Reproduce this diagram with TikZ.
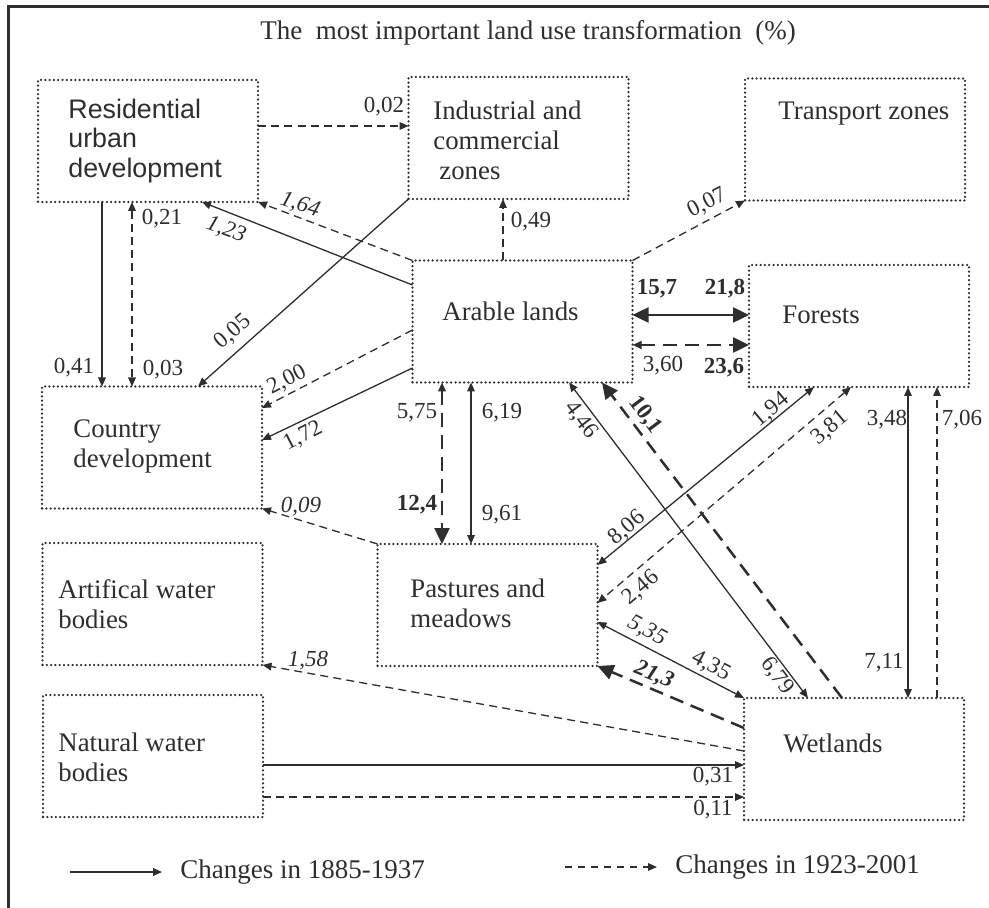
\documentclass[tikz,border=0pt]{standalone}
\usepackage{fontspec}
\setmainfont{Liberation Serif}
\newfontfamily\residfont{Liberation Sans}
\usetikzlibrary{arrows.meta}
\definecolor{ink}{HTML}{2E2E2E}

\begin{document}
\begin{tikzpicture}[x=0.5pt,y=-0.5pt,
  landbox/.style={draw=ink,line width=1.25pt,line cap=round,dash pattern=on 0pt off 2.15pt,
    minimum width=110pt,minimum height=61pt,inner sep=0pt,outer sep=0pt},
  boxtext/.style={anchor=west,align=left,text=ink,inner sep=0pt,font=\fontsize{13.4}{15}\selectfont},
  lbl/.style={text=ink,inner sep=0pt,font=\fontsize{11.5}{13}\selectfont},
  lbli/.style={lbl,font=\fontsize{11.5}{13}\selectfont\itshape},
  lblb/.style={lbl,font=\fontsize{11.5}{13}\selectfont\bfseries},
  old/.style={draw=ink,line width=0.65pt},
  new/.style={draw=ink,line width=0.65pt,dash pattern=on 4pt off 2.6pt},
  oldbold/.style={draw=ink,line width=1.25pt},
  newbold/.style={draw=ink,line width=1.25pt,dash pattern=on 7pt off 4pt},
  smalltip/.tip={Triangle[length=4.5pt,width=3.8pt]},
  bigtip/.tip={Triangle[length=8pt,width=7.5pt]}]
  \useasboundingbox (0,0) rectangle (989,908);
  % frame and title
  \draw[ink,line width=1.5pt] (8.5,908) -- (8.5,6.5) -- (989,6.5);
  \node[lbl,font=\fontsize{13.5}{15}\selectfont] (title) at (528,33)
    {The~ most important land use transformation~ (\%)};

  % land use classes
  \node[landbox] (resid)  at (148,141) {};
  \node[landbox] (indust) at (518.5,138) {};
  \node[landbox] (transp) at (855,139.5) {};
  \node[landbox] (arable) at (522.5,321.5) {};
  \node[landbox] (forest) at (859,326) {};
  \node[landbox] (country) at (152,447.5) {};
  \node[landbox] (artif)  at (152.5,604) {};
  \node[landbox] (pastur) at (487.5,605) {};
  \node[landbox] (natur)  at (153,756) {};
  \node[landbox] (wetl)   at (854,759) {};

  \node[boxtext,font=\residfont\fontsize{13.4}{14.8}\selectfont] (resid-t) at (68,141)
    {Residential\\urban\\development};
  \node[boxtext] (indust-t) at (433,140) {Industrial and\\commercial\\\hspace*{3pt}zones};
  \node[boxtext] (transp-t) at (778,114) {Transport zones};
  \node[boxtext] (arable-t) at (442,311) {Arable lands};
  \node[boxtext] (forest-t) at (782,315) {Forests};
  \node[boxtext] (country-t) at (73,446) {Country\\development};
  \node[boxtext] (artif-t)  at (58,604) {Artifical water\\bodies};
  \node[boxtext] (pastur-t) at (410,603) {Pastures and\\meadows};
  \node[boxtext] (natur-t)  at (58,757) {Natural water\\bodies};
  \node[boxtext] (wetl-t)   at (783,743) {Wetlands};

  % changes in 1885-1937
  \draw[old,-smalltip] (arable.west |- 0,285) -- (202,0 |- resid.south);
  \draw[old,-smalltip] (indust.south west) -- (198,0 |- country.north);
  \draw[old,-smalltip] (102,0 |- resid.south) -- (102,0 |- country.north);
  \draw[old,-smalltip] (arable.west |- 0,368) -- (country.east |- 0,440);
  \draw[oldbold,bigtip-bigtip] (arable.east |- 0,315) -- (forest.west |- 0,315);
  \draw[old,smalltip-smalltip] (471,0 |- arable.south) -- (471,0 |- pastur.north);
  \draw[old,smalltip-smalltip] (569,0 |- arable.south) -- (808,0 |- wetl.north);
  \draw[old,smalltip-smalltip] (814,0 |- forest.south) -- (pastur.east |- 0,565);
  \draw[old,smalltip-smalltip] (pastur.east |- 0,622) -- (wetl.north west);
  \draw[old,smalltip-smalltip] (908,0 |- forest.south) -- (908,0 |- wetl.north);
  \draw[old,-smalltip] (natur.east |- 0,765) -- (wetl.west |- 0,765);

  % changes in 1923-2001
  \draw[new,-smalltip] (resid.east |- 0,126) -- (indust.west |- 0,126);
  \draw[new,-smalltip] (arable.north west) -- (resid.south east);
  \draw[new,smalltip-smalltip] (132,0 |- resid.south) -- (132,0 |- country.north);
  \draw[new,-smalltip] (503,0 |- arable.north) -- (503,0 |- indust.south);
  \draw[new,-smalltip] (arable.north east) -- (transp.south west);
  \draw[newbold,smalltip-bigtip] (arable.east |- 0,345) -- (forest.west |- 0,345);
  \draw[new,-smalltip] (arable.west |- 0,330) -- (country.east |- 0,408);
  \draw[newbold,smalltip-bigtip] (442,0 |- arable.south) -- (442,0 |- pastur.north);
  \draw[new,-smalltip] (pastur.north west) -- (country.south east);
  \draw[newbold,-bigtip] (842,0 |- wetl.north) -- (602,0 |- arable.south);
  \draw[new,smalltip-smalltip] (851,0 |- forest.south) -- (pastur.east |- 0,603);
  \draw[newbold,-bigtip] (wetl.west |- 0,728) -- (pastur.south east);
  \draw[new,-smalltip] (wetl.west |- 0,751) -- (artif.south east);
  \draw[new,-smalltip] (natur.east |- 0,797) -- (wetl.west |- 0,797);
  \draw[new,-smalltip] (937,0 |- wetl.north) -- (937,0 |- forest.south);

  % shares
  \node[lbl] (l002) at (384,107) {0,02};
  \node[lbli,rotate=-18] (l164) at (300,205) {1,64};
  \node[lbli,rotate=-20] (l123) at (226,230) {1,23};
  \node[lbl] (l021) at (162,219) {0,21};
  \node[lbl] (l049) at (531,222) {0,49};
  \node[lbl,rotate=27] (l007) at (707,203) {0,07};
  \node[lbl,rotate=41] (l005) at (233,332) {0,05};
  \node[lbl] (l041) at (74,368) {0,41};
  \node[lbl] (l003) at (163,370) {0,03};
  \node[lbl,rotate=27] (l200) at (287,380) {2,00};
  \node[lbl,rotate=27] (l172) at (303,436) {1,72};
  \node[lblb] (l157) at (657,289) {15,7};
  \node[lblb] (l218) at (725,289) {21,8};
  \node[lbl] (l360) at (663,366) {3,60};
  \node[lblb] (l236) at (724,368) {23,6};
  \node[lbl] (l575) at (417,413) {5,75};
  \node[lblb] (l124) at (417,505) {12,4};
  \node[lbl] (l619) at (502,413) {6,19};
  \node[lbl] (l961) at (502,515) {9,61};
  \node[lbli] (l009) at (301,507) {0,09};
  \node[lbl,rotate=-53] (l446) at (581,420) {4,46};
  \node[lblb,rotate=-53] (l101) at (645,415) {10,1};
  \node[lbl,rotate=40] (l194) at (771,410) {1,94};
  \node[lbl,rotate=40] (l381) at (830,428) {3,81};
  \node[lbl,rotate=40] (l806) at (627,528) {8,06};
  \node[lbl,rotate=40] (l246) at (641,588) {2,46};
  \node[lbl] (l348) at (887,420) {3,48};
  \node[lbl] (l706) at (962,420) {7,06};
  \node[lbl] (l711) at (884,663) {7,11};
  \node[lbli,rotate=-28] (l535) at (647,631) {5,35};
  \node[lbl,rotate=-28] (l435) at (711,666) {4,35};
  \node[lbl,rotate=-53] (l679) at (777,676) {6,79};
  \node[lblb,rotate=-23,font=\fontsize{11.5}{13}\selectfont\bfseries\itshape] (l213) at (654,675) {21,3};
  \node[lbli] (l158) at (308,661) {1,58};
  \node[lbl] (l031) at (713,777) {0,31};
  \node[lbl] (l011) at (713,810) {0,11};

  % legend
  \node[lbl,anchor=west,font=\fontsize{13.5}{15}\selectfont] (leg-old) at (180,872) {Changes in 1885-1937};
  \node[lbl,anchor=west,font=\fontsize{13.5}{15}\selectfont] (leg-new) at (675,867) {Changes in 1923-2001};
  \coordinate (leg-old-s) at (70,872);
  \coordinate (leg-new-s) at (565,867);
  \draw[old,-smalltip] (leg-old-s) -- ([xshift=-9pt]leg-old.west);
  \draw[new,dash pattern=on 3.5pt off 3pt,-smalltip] (leg-new-s) -- ([xshift=-9pt]leg-new.west);
\end{tikzpicture}
\end{document}
